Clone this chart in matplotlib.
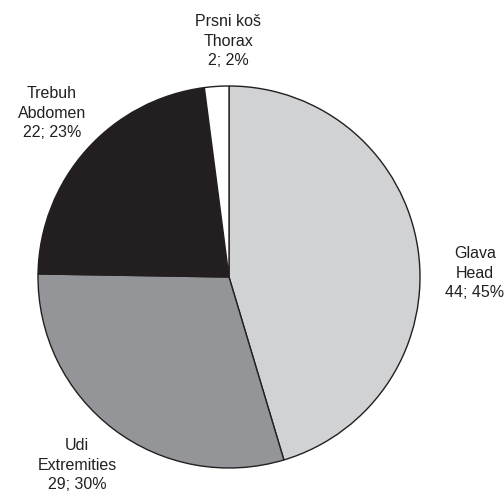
import matplotlib
matplotlib.use('Agg')
import matplotlib.pyplot as pyplot


# data, clockwise from the top
LOCAL_NAMES = ['Glava', 'Udi', 'Trebuh', 'Prsni koš']
ENGLISH_NAMES = ['Head', 'Extremities', 'Abdomen', 'Thorax']
COUNTS = [44, 29, 22, 2]
COLOURS = ['#d1d2d4', '#939598', '#231f20', '#ffffff']

# label centres in pixel coordinates (from top-left)
LABEL_POSITIONS = [(475, 273), (77, 465), (52, 113), (228, 41)]

WIDTH, HEIGHT = 504, 492
CENTRE = (229, 277)
RADIUS = 191


def make_label(local, english, count, total):
    percent = round(100.0 * count / total)
    return "{}\n{}\n{}; {}%".format(local, english, count, percent)


def main():
    pyplot.rcParams['font.family'] = ['Liberation Sans', 'DejaVu Sans']
    figure = pyplot.figure(figsize=(WIDTH / 100, HEIGHT / 100), dpi=100)
    axes = figure.add_axes([0, 0, 1, 1])
    axes.set_xlim(0, WIDTH)
    axes.set_ylim(0, HEIGHT)
    axes.set_axis_off()

    axes.pie(
        COUNTS, colors=COLOURS, startangle=90, counterclock=False,
        center=(CENTRE[0], HEIGHT - CENTRE[1]), radius=RADIUS,
        wedgeprops={'edgecolor': '#231f20', 'linewidth': 1.0},
        frame=True)
    axes.set_xlim(0, WIDTH)
    axes.set_ylim(0, HEIGHT)
    axes.set_axis_off()

    total = sum(COUNTS)
    for local, english, count, (x, y) in zip(
            LOCAL_NAMES, ENGLISH_NAMES, COUNTS, LABEL_POSITIONS):
        axes.text(
            x, HEIGHT - y, make_label(local, english, count, total),
            ha='center', va='center', fontsize=11.5, color='#231f20',
            linespacing=1.4)

    figure.savefig('out.png', dpi=100)


main()
